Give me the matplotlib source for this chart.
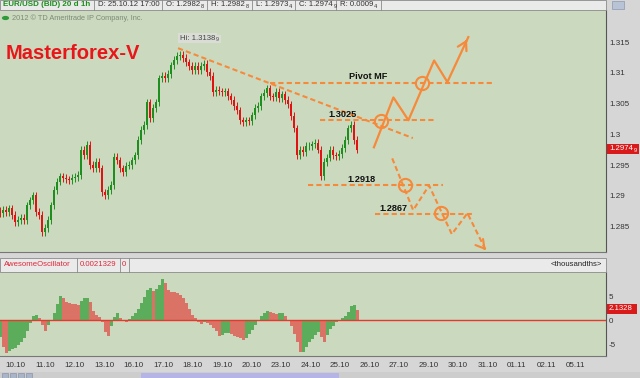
import matplotlib
matplotlib.use('Agg')
import matplotlib.pyplot as plt
import matplotlib.patches as mpatches
from matplotlib.text import Annotation
import numpy as np

plt.rcParams['font.family'] = ['Liberation Sans', 'DejaVu Sans']

W, H = 640, 378

BG = '#CBDABE'
GRAY = '#D6D6D6'
BAR = '#EAEAEA'
EDGE = '#8A8A8A'
ORANGE = '#F7893B'
UP = '#1E8E1E'
DOWN = '#E01212'
AO_UP = '#5BAD5B'
AO_DOWN = '#DA7365'

# EUR/USD closes, one every ~2.4 h (10.10 -> 25.10 17:00)
closes = [1.2872, 1.2877, 1.2874, 1.2880, 1.2869, 1.2858, 1.2861, 1.2864, 1.2861, 1.2885,
          1.2893, 1.2901, 1.2874, 1.2869, 1.2841, 1.2848, 1.2861, 1.2885, 1.2910, 1.2923,
          1.2932, 1.2929, 1.2927, 1.2926, 1.2929, 1.2931, 1.2934, 1.2975, 1.2966, 1.2983,
          1.2950, 1.2945, 1.2955, 1.2945, 1.2906, 1.2901, 1.2910, 1.2918, 1.2963, 1.2958,
          1.2945, 1.2939, 1.2949, 1.2950, 1.2958, 1.2966, 1.2991, 1.3007, 1.3015, 1.3052,
          1.3026, 1.3043, 1.3052, 1.3091, 1.3095, 1.3091, 1.3098, 1.3112, 1.3121, 1.3127,
          1.3129, 1.3124, 1.3117, 1.3111, 1.3104, 1.3111, 1.3104, 1.3111, 1.3114, 1.3101,
          1.3095, 1.3069, 1.3072, 1.3070, 1.3069, 1.3070, 1.3062, 1.3056, 1.3046, 1.3039,
          1.3023, 1.3020, 1.3023, 1.3022, 1.3031, 1.3043, 1.3046, 1.3062, 1.3067, 1.3075,
          1.3062, 1.3061, 1.3069, 1.3059, 1.3065, 1.3056, 1.3049, 1.3030, 1.3010, 1.2966,
          1.2975, 1.2971, 1.2981, 1.2981, 1.2984, 1.2986, 1.2975, 1.2932, 1.2955, 1.2962,
          1.2975, 1.2966, 1.2965, 1.2968, 1.2978, 1.2991, 1.3010, 1.3015, 1.2991, 1.2975]

# Awesome Oscillator (thousandths), same bars
ao = [-3.5, -5.5, -6.8, -6.3, -6.0, -5.8, -5.1, -4.5, -3.6, -2.3,
      -0.6, 0.9, 1.2, 0.5, -1.0, -2.3, -1.0, -0.2, 1.5, 3.3,
      5.0, 4.6, 3.8, 3.6, 3.4, 3.3, 3.2, 4.0, 4.6, 4.7,
      3.9, 2.0, 1.2, 0.6, -0.4, -2.4, -3.2, -1.2, 0.6, 1.6,
      0.5, -0.1, -0.3, 0.2, 0.8, 1.5, 2.4, 3.6, 4.9, 6.3,
      6.7, 6.0, 6.5, 7.4, 8.5, 7.7, 6.4, 5.9, 5.8, 5.6,
      5.2, 4.6, 3.6, 2.3, 1.2, 0.4, -0.4, -0.8, -0.4, -0.5,
      -1.0, -1.6, -2.3, -3.2, -3.1, -2.6, -2.6, -2.9, -3.2, -3.4,
      -3.7, -4.0, -3.7, -2.9, -2.0, -1.0, 0.0, 0.8, 1.5, 2.0,
      1.7, 1.6, 1.3, 1.5, 1.5, 0.8, -0.2, -1.1, -2.8, -4.5,
      -6.5, -6.5, -5.5, -4.6, -3.8, -3.1, -2.5, -3.4, -4.6, -3.0,
      -1.8, -1.1, -0.3, 0.1, 0.4, 0.8, 1.7, 3.0, 3.2, 2.1]

day_labels = ['10.10', '11.10', '12.10', '13.10', '16.10', '17.10', '18.10', '19.10',
              '20.10', '23.10', '24.10', '25.10', '26.10', '27.10', '29.10', '30.10',
              '31.10', '01.11', '02.11', '05.11']

price_ticks = [1.285, 1.29, 1.295, 1.3, 1.305, 1.31, 1.315]
ao_ticks = [-5, 0, 5]

# hand drawn scenario (x in days from 10.10, y in price)
trend_line = ([5.51, 13.47], [1.3140, 1.2994])
levels = [(1.3084, 8.63, 16.14), (1.3024, 10.32, 14.25),
          (1.2918, 9.92, 14.49), (1.2871, 12.19, 15.51)]
level_text = [('Pivot MF', 11.95, 1.3094), ('1.3025', 11.09, 1.3033),
              ('1.2918', 11.74, 1.2927), ('1.2867', 12.80, 1.2879)]
up_path_x = [12.15, 12.81, 13.32, 14.19, 14.64, 15.35]
up_path_y = [1.2979, 1.3060, 1.3023, 1.3120, 1.3085, 1.3158]
down_path_x = [12.77, 13.48, 14.02, 14.79, 15.32, 15.94]
down_path_y = [1.2961, 1.2877, 1.2917, 1.2838, 1.2872, 1.2812]
circles_x = [12.38, 13.79, 13.20, 14.42]
circles_y = [1.3022, 1.3084, 1.2917, 1.2872]

bar_step = 0.1017
first_bar = -0.525
wick = 0.0006


def fx(px):
    return px / W


def fy(py):
    return 1 - py / H


fig = plt.figure(figsize=(W / 100, H / 100), dpi=100, facecolor=GRAY)


def rect(x0, y0, x1, y1, **kw):
    fig.add_artist(mpatches.Rectangle((fx(x0), fy(y1)), (x1 - x0) / W, (y1 - y0) / H,
                                      transform=fig.transFigure, **kw))


def pip_text(x, y, main, small, color='#333333', size=5.6, **kw):
    t = fig.text(fx(x), fy(y), main, fontsize=size, color=color, va='center', **kw)
    fig.add_artist(Annotation(small, xy=(1.02, 0.0), xycoords=t, fontsize=size * 0.72,
                              color=color, va='bottom', ha='left', zorder=4))
    return t


# ---------- main price panel ----------
ax = fig.add_axes([0, fy(252), 605.5 / W, 242 / H], facecolor=BG)
x = first_bar + bar_step * np.arange(len(closes))
c = np.array(closes)
o = np.r_[c[0] + 0.0004, c[:-1]]
cols = [UP if cc >= oo else DOWN for cc, oo in zip(c, o)]
ax.vlines(x, np.minimum(o, c) - wick, np.maximum(o, c) + wick, colors=cols, lw=0.7, zorder=2)
ax.bar(x, np.maximum(np.abs(c - o), 0.00008), bottom=np.minimum(o, c), width=0.05,
       color=cols, zorder=3)

ax.plot(*trend_line, color=ORANGE, lw=1.5, ls=(0, (2.5, 1.5)), zorder=4)
for lv, x0, x1 in levels:
    ax.plot([x0, x1], [lv, lv], color=ORANGE, lw=1.5, ls=(0, (2.5, 1.5)), zorder=4)
for s, tx, ty in level_text:
    ax.text(tx, ty, s, fontsize=6.6, fontweight='bold', color='#111111',
            ha='center', va='center', zorder=5)

ax.plot(up_path_x, up_path_y, color=ORANGE, lw=1.6, zorder=4)
ax.annotate('', xy=(up_path_x[-1], up_path_y[-1]),
            xytext=(up_path_x[-1] - 0.12, up_path_y[-1] - 0.0011),
            arrowprops=dict(arrowstyle='->,head_length=0.6,head_width=0.35', color=ORANGE, lw=1.6))
ax.plot(down_path_x, down_path_y, color=ORANGE, lw=1.5, ls=(0, (2.5, 1.5)), zorder=4)
ax.annotate('', xy=(down_path_x[-1], down_path_y[-1]),
            xytext=(down_path_x[-1] - 0.1, down_path_y[-1] + 0.0006),
            arrowprops=dict(arrowstyle='->,head_length=0.6,head_width=0.35', color=ORANGE, lw=1.5))
ax.plot(circles_x, circles_y, 'o', ms=9.5, mfc='none', mec=ORANGE, mew=1.5, zorder=5)

hi = ax.text(5.58, 1.3156, 'Hi: 1.3138', fontsize=5.6, color='#444444', va='center',
             bbox=dict(fc='#D9DDD6', ec='none', pad=1.2))
ax.annotate('9', xy=(1.02, 0.0), xycoords=hi, fontsize=4.0, color='#444444', va='bottom',
            bbox=dict(fc='#D9DDD6', ec='none', pad=1.0))
ax.text(-0.35, 1.3132, 'Masterforex-V', fontsize=14.5, fontweight='bold', color='#E8161B',
        va='center')

ax.set_xlim(first_bar, 20.0)
ax.set_ylim(1.2809, 1.3202)
ax.set_xticks([])
ax.yaxis.tick_right()
ax.set_yticks(price_ticks)
ax.set_yticklabels(['1.285', '1.29', '1.295', '1.3', '1.305', '1.31', '1.315'])
ax.tick_params(axis='y', length=0, pad=2.5, labelsize=5.8, labelcolor='#333333')
for s in ['top', 'left']:
    ax.spines[s].set_visible(False)
ax.spines['right'].set_color('#555555')
ax.spines['bottom'].set_color('#777777')

# ---------- oscillator panel ----------
ax2 = fig.add_axes([0, fy(355.5), 605.5 / W, 83.5 / H], facecolor=BG)
a = np.array(ao)
rising = np.r_[True, np.diff(a) >= 0]
ax2.bar(x, a, width=bar_step, color=[AO_UP if r else AO_DOWN for r in rising],
        linewidth=0, zorder=2)
ax2.axhline(0, color='#E23A2E', lw=1.0, zorder=3)
ax2.set_xlim(first_bar, 20.0)
ax2.set_ylim(-7.33, 10.06)
ax2.yaxis.tick_right()
ax2.set_yticks(ao_ticks)
ax2.set_yticklabels(['-5', '0', '5'])
ax2.tick_params(axis='y', length=0, pad=2.5, labelsize=5.8, labelcolor='#333333')
ax2.set_xticks(np.arange(len(day_labels)))
ax2.set_xticklabels(day_labels)
ax2.tick_params(axis='x', length=0, pad=5, labelsize=5.8, labelcolor='#333333')
for s in ['top', 'left']:
    ax2.spines[s].set_visible(False)
ax2.spines['right'].set_color('#555555')
ax2.spines['bottom'].set_color('#777777')

# ---------- header strips ----------
rect(0, 0, 606, 10, facecolor=BAR, edgecolor=EDGE, lw=0.6)
for bx in [94, 162, 207, 252, 295, 336, 381]:
    fig.add_artist(plt.Line2D([fx(bx), fx(bx)], [fy(0), fy(10)], color=EDGE, lw=0.6))
fig.text(fx(3), fy(5), 'EUR/USD (BID) 20 d 1h', fontsize=5.8, fontweight='bold',
         color='#1A8F1A', va='center')
fig.text(fx(98), fy(5), 'D: 25.10.12 17:00', fontsize=5.6, color='#333333', va='center')
pip_text(166, 5, 'O: 1.2982', '8')
pip_text(211, 5, 'H: 1.2982', '8')
pip_text(256, 5, 'L: 1.2973', '4')
pip_text(299, 5, 'C: 1.2974', '9')
pip_text(340, 5, 'R: 0.0009', '4')
rect(612, 1, 624, 9, facecolor='#B9C3D6', edgecolor='#8E98AE', lw=0.5)

fig.add_artist(mpatches.Circle((fx(5.5), fy(18)), 3.6 / W, transform=fig.transFigure,
                               facecolor='#2E9A3A', edgecolor='none'))
fig.text(fx(12), fy(18), '2012 \u00a9 TD Ameritrade IP Company, Inc.', fontsize=5.3,
         color='#7D8A78', va='center')

rect(0, 258, 606, 272, facecolor=BAR, edgecolor=EDGE, lw=0.6)
for bx in [77, 120, 129]:
    fig.add_artist(plt.Line2D([fx(bx), fx(bx)], [fy(258), fy(272)], color=EDGE, lw=0.6))
fig.text(fx(4), fy(265), 'AwesomeOscillator', fontsize=5.6, color='#E0283A', va='center')
fig.text(fx(80), fy(265), '0.0021329', fontsize=5.6, color='#E0283A', va='center')
fig.text(fx(122), fy(265), '0', fontsize=5.6, color='#E0283A', va='center')
fig.text(fx(602), fy(265), '<thousandths>', fontsize=5.6, color='#222222', va='center',
         ha='right')

# last value markers on the right scale
rect(607, 144, 639, 154, facecolor='#D81A1A', edgecolor='none')
pip_text(609, 149, '1.2974', '9', color='white')
rect(607, 304, 637, 314, facecolor='#D81A1A', edgecolor='none')
fig.text(fx(609), fy(309), '2.1328', fontsize=5.6, color='white', va='center')

# scroll bar
rect(0, 372, 640, 378, facecolor='#CDCDCD', edgecolor='none')
rect(141, 372.5, 339, 378, facecolor='#B4B4E6', edgecolor='none')
for bx in [2, 10, 18, 26]:
    rect(bx, 372.5, bx + 6, 378, facecolor='#A9B4C8', edgecolor='#7F8AA0', lw=0.4)

fig.savefig('out.png', dpi=100, facecolor=GRAY)
